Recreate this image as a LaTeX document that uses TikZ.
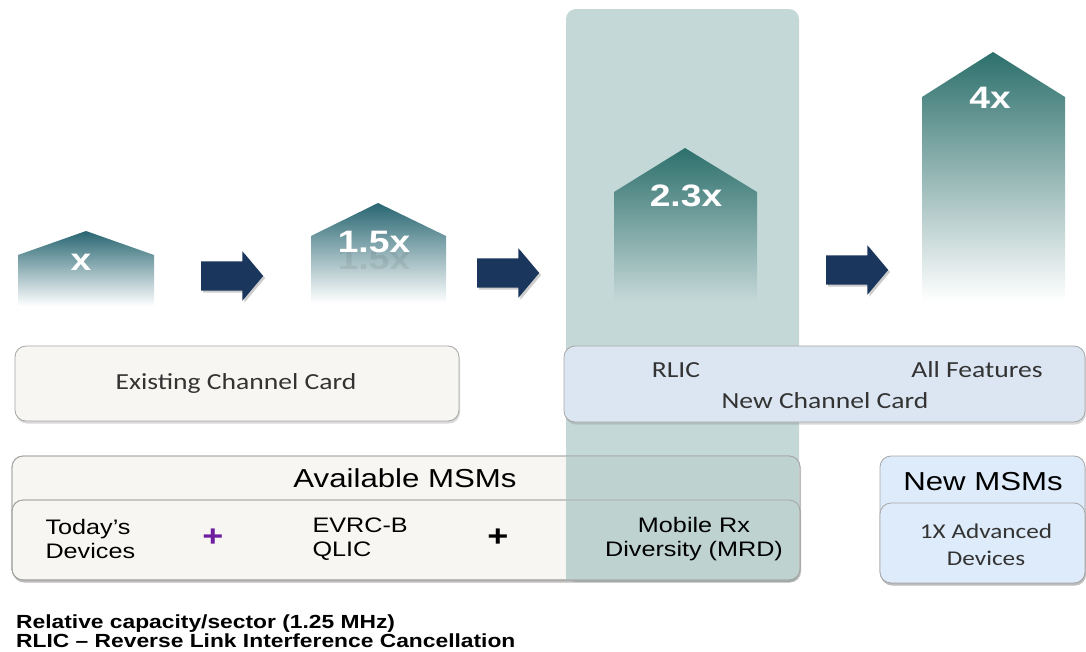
\documentclass[tikz,border=0pt]{standalone}
\usepackage{fontspec}
\setmainfont{Liberation Sans}[FakeStretch=1.2]
\newfontfamily\cardfont{Carlito}[FakeStretch=1.2]
\usepackage{tikz}
\usetikzlibrary{shapes.arrows,positioning,shadows}
\definecolor{colteal}{RGB}{197,216,216}
\definecolor{overlap}{RGB}{190,210,207}
\definecolor{bluedk}{RGB}{40,102,114}
\definecolor{bluemd}{RGB}{44,124,142}
\definecolor{greendk}{RGB}{45,112,108}
\definecolor{greenmd}{RGB}{98,148,145}
\definecolor{navy}{RGB}{27,54,93}
\definecolor{cardgray}{RGB}{247,246,242}
\definecolor{cardblue}{RGB}{220,230,242}
\definecolor{msmblue}{RGB}{222,235,250}
\definecolor{plusviolet}{RGB}{112,30,160}
\begin{document}
\begin{tikzpicture}[x = 1pt, y = -1pt,
  card/.style = {draw = black!35, line width = .8pt, rounded corners = 11pt,
    drop shadow = {opacity = .3, shadow xshift = 1pt, shadow yshift = -2.5pt}},
  barlabel/.style = {text = white, font = \bfseries\fontsize{31}{31}\selectfont},
  blockarrow/.style = {single arrow, fill = navy, minimum height = 62pt,
    inner xsep = 0pt, inner ysep = 14.5pt, single arrow head extend = 10pt,
    single arrow tip angle = 100,
    drop shadow = {opacity = .4, shadow xshift = 2pt, shadow yshift = -2pt}},
  cardtext/.style = {text = black!80, font = \cardfont\fontsize{23}{27}\selectfont},
  msmtext/.style = {align = left, font = \fontsize{21}{24}\selectfont},
  plus/.style = {font = \bfseries\fontsize{30}{30}\selectfont}]
\useasboundingbox (0,0) rectangle (1086,651);
% highlighted column
\fill[colteal, rounded corners = 10pt] (566,9) rectangle (799,582);
% capacity bars
\shade[top color = bluedk, middle color = bluemd, bottom color = white]
  (18,306) -- (18,255) -- (86,231) -- (154,255) -- (154,306) -- cycle;
\shade[top color = bluedk, middle color = bluemd, bottom color = white]
  (311,303) -- (311,236) -- (378,203) -- (446,236) -- (446,303) -- cycle;
\shade[top color = greendk, middle color = greenmd, bottom color = colteal]
  (614,301) -- (614,192) -- (685,148) -- (757,192) -- (757,301) -- cycle;
\shade[top color = greendk, middle color = greenmd, bottom color = white]
  (922,301) -- (922,97) -- (993,52) -- (1065,97) -- (1065,301) -- cycle;
\node[barlabel] (capa) at (81,262) {x};
\node[barlabel, opacity = .07, text = black] (ghost) at (374,259) {1.5x};
\node[barlabel] (capb) at (374,242) {1.5x};
\node[barlabel] (capc) at (686,196) {2.3x};
\node[barlabel] (capd) at (990,98) {4x};
% arrows
\node[blockarrow] (arra) at (226,276) {};
\node[blockarrow] (arrb) at (502,273) {};
\node[blockarrow] (arrc) at (851,270) {};
% channel cards
\draw[card, fill = cardgray] (15,346) rectangle (459,421);
\draw[card, fill = cardblue] (564,346) rectangle (1085,422);
\node[cardtext] (existing) at (236,383) {Existing Channel Card};
\node[cardtext] (rlic) at (676,370) {RLIC};
\node[cardtext] (allfeat) at (977,370) {All Features};
\node[cardtext] (newcard) at (825,401) {New Channel Card};
% MSM boxes
\draw[card, fill = cardgray] (12,456) rectangle (800,580);
\draw[card, fill = cardgray] (12,500) rectangle (800,580);
\begin{scope}
  \clip (566,9) rectangle (799,582);
  \fill[overlap, rounded corners = 11pt] (12,456) rectangle (800,580);
\end{scope}
\draw[draw = black!35, line width = .8pt, rounded corners = 11pt] (12,456) rectangle (800,580);
\draw[draw = black!35, line width = .8pt, rounded corners = 11pt] (12,500) rectangle (800,580);
\draw[card, fill = msmblue] (880,456) rectangle (1085,583);
\draw[card, fill = msmblue] (880,503) rectangle (1085,583);
\node[font = \fontsize{26}{26}\selectfont] (avail) at (405,478) {Available MSMs};
\node[msmtext, anchor = west] (today) at (42,539) {Today’s\\Devices};
\node[plus, text = plusviolet] (plusa) at (213,538) {+};
\node[msmtext, anchor = west] (evrc) at (309,539) {EVRC-B\\QLIC};
\node[plus] (plusb) at (498,538) {+};
\node[msmtext, align = center] (mrd) at (694,539) {Mobile Rx\\Diversity (MRD)};
\node[font = \fontsize{26}{26}\selectfont] (newmsm) at (983,482) {New MSMs};
\node[cardtext, align = center, font = \cardfont\fontsize{21}{27}\selectfont] (advdev) at (986,545) {1X Advanced\\Devices};
% footnote
\node[anchor = north west, align = left, inner sep = 0pt,
  font = \bfseries\fontsize{19}{19}\selectfont] (note) at (16,615)
  {Relative capacity/sector (1.25 MHz)\\RLIC – Reverse Link Interference Cancellation};
\end{tikzpicture}
\end{document}
